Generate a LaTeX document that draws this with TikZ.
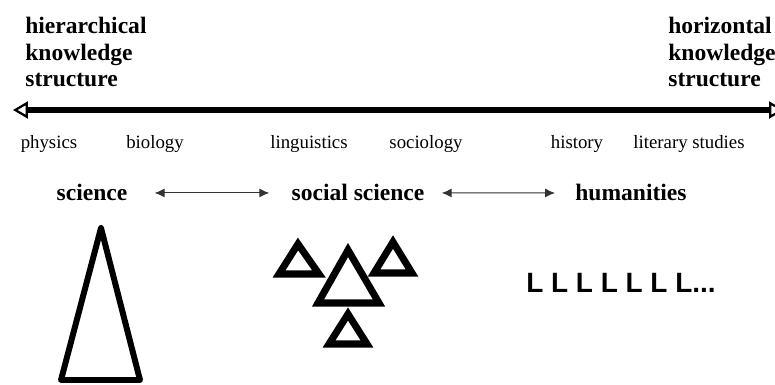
\documentclass[tikz,border=0pt]{standalone}
\usepackage{fontspec}
\setmainfont{Liberation Serif}
\newfontfamily\lsans{Liberation Sans}
\usetikzlibrary{positioning,arrows.meta}

\begin{document}
\begin{tikzpicture}[x=0.02cm, y=-0.02cm]
    \tikzset{
      heading/.style = {anchor=north west, inner sep=0pt, align=left, font=\fontsize{13.4}{15.1}\selectfont\bfseries},
      discipline/.style = {anchor=base, inner sep=0pt, font=\fontsize{10.7}{12}\selectfont},
      field/.style = {anchor=base, inner sep=0pt, font=\fontsize{13.4}{15}\selectfont\bfseries},
      axis/.style = {line width=2.85pt, {Triangle[open, line width=1.3pt, length=0.3cm, width=0.34cm]}-{Triangle[open, line width=1.3pt, length=0.3cm, width=0.34cm]}},
      link/.style = {line width=0.6pt, black!80, {Latex[length=0.2cm, width=0.18cm]}-{Latex[length=0.2cm, width=0.18cm]}},
      tri/.style = {line width=3.4pt},
      smalltri/.style = {line width=4pt}
    }
    \clip (0,0) rectangle (775,385);

    \node (hier) [heading] at (25,17) {hierarchical\\knowledge\\structure};
    \node (horiz) [heading] at (668,17) {horizontal\\knowledge\\structure};

    \coordinate (axl) at (13,110);
    \coordinate (axr) at (784,110);
    \draw [axis] (axl) -- (axr);

    \node (phys) [discipline] at (49,149) {physics};
    \node (bio) [discipline] at (155,149) {biology};
    \node (ling) [discipline] at (309,149) {linguistics};
    \node (socio) [discipline] at (426,149) {sociology};
    \node (hist) [discipline] at (577,149) {history};
    \node (lit) [discipline] at (689,149) {literary studies};

    \node (sci) [field] at (92,201) {science};
    \node (socsci) [field] at (358,201) {social science};
    \node (hum) [field] at (631,201) {humanities};

    \draw [link, shorten <=0.54cm, shorten >=0.44cm] (sci) -- (socsci);
    \draw [link, shorten <=0.34cm, shorten >=0.4cm] (socsci) -- (hum);

    \draw [tri, line join=round] (101,228) -- (61,380) -- (140,380) -- cycle;

    \draw [smalltri] (298,244) -- (279,274) -- (319,274) -- cycle;
    \draw [smalltri] (393,242) -- (374,273) -- (412,273) -- cycle;
    \draw [smalltri] (348,250) -- (318,303) -- (379,303) -- cycle;
    \draw [smalltri] (348,314) -- (329,344) -- (367,344) -- cycle;

    \node (lrow) [anchor=base west, inner sep=0pt, font=\lsans\bfseries\fontsize{15.9}{18}\selectfont] at (526,293) {L L L L L L L...};
\end{tikzpicture}
\end{document}
